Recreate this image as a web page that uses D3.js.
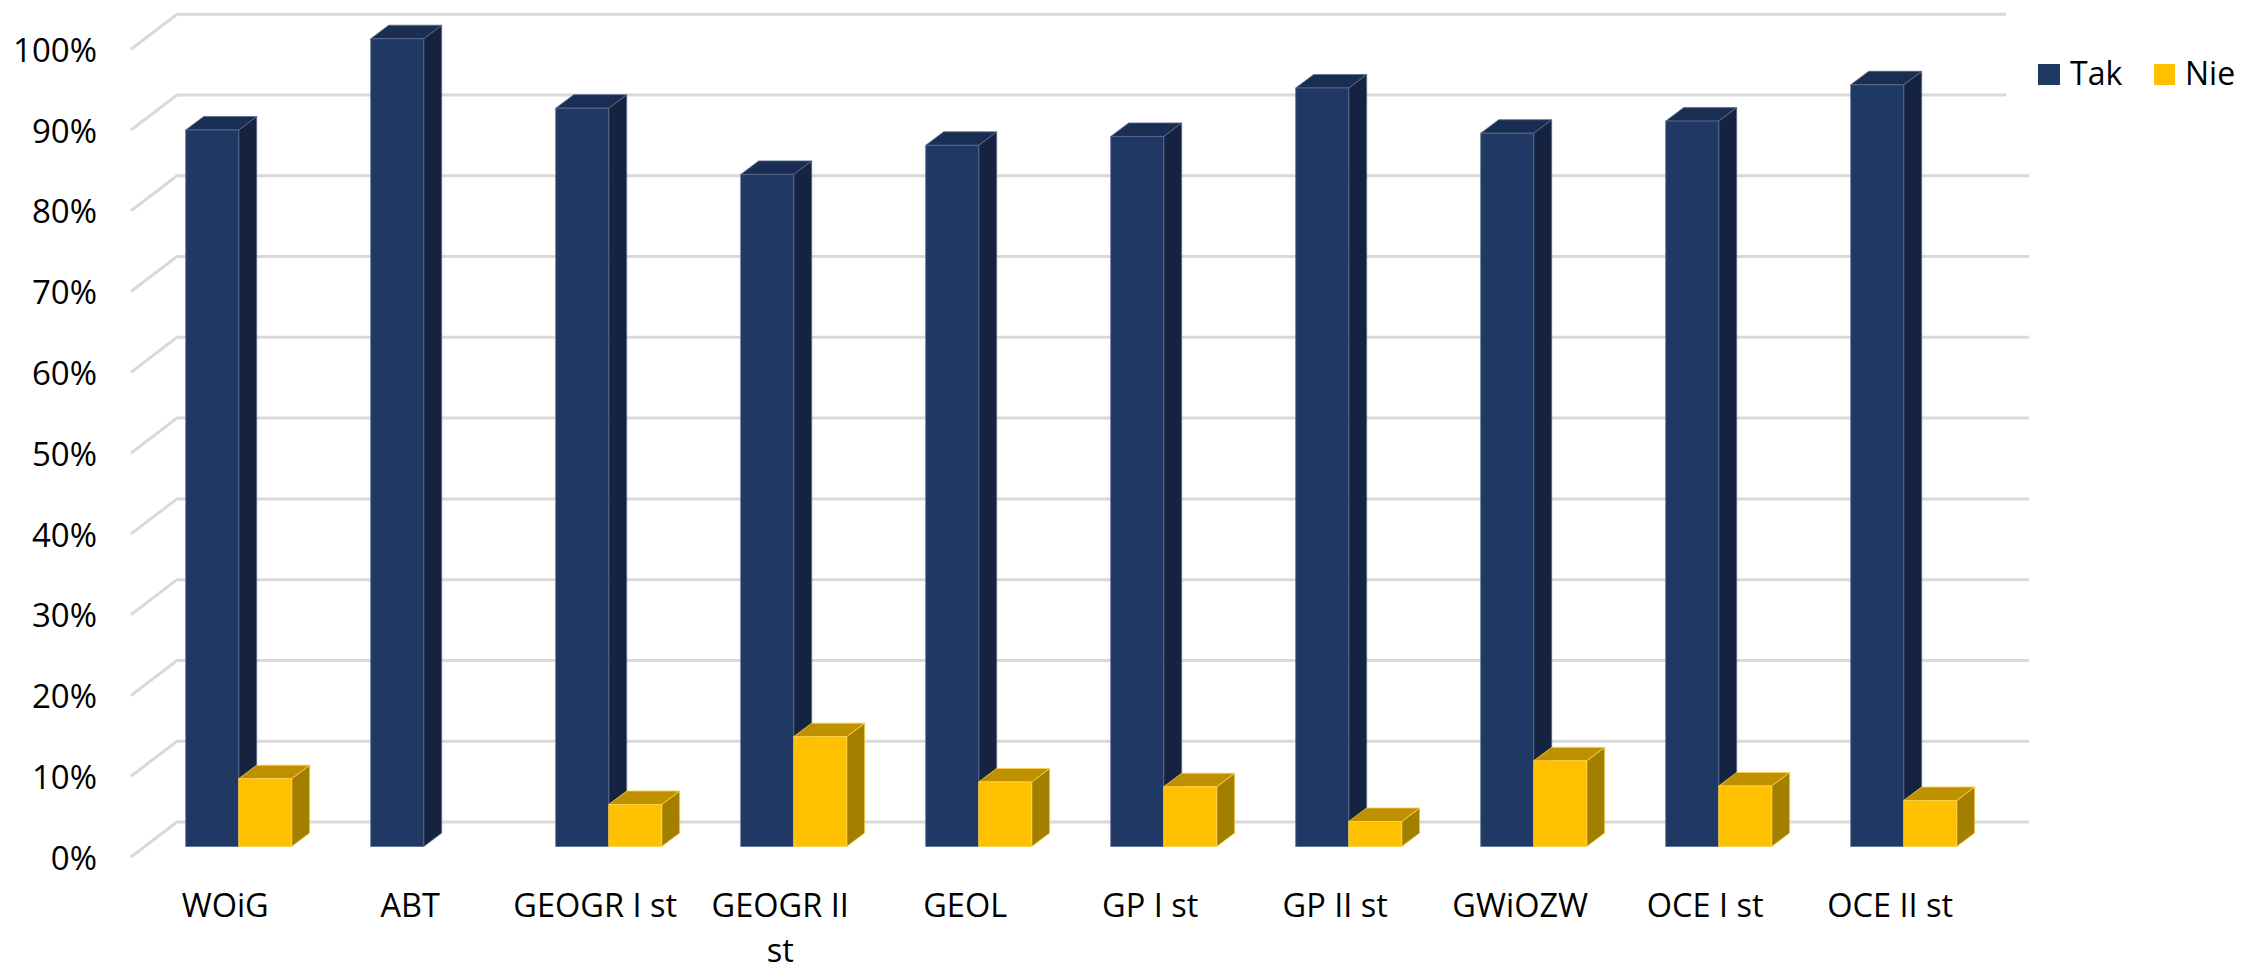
<!DOCTYPE html>
<html><head><meta charset="utf-8">
<script src="https://cdnjs.cloudflare.com/ajax/libs/d3/7.8.5/d3.min.js"></script>
<style>html,body{margin:0;padding:0;background:#fff}svg{display:block}text{font-family:"Open Sans";fill:#000}</style>
</head><body>
<div id="chart"></div>
<script>
const categories = ["WOiG","ABT","GEOGR I st","GEOGR II st","GEOL","GP I st","GP II st","GWiOZW","OCE I st","OCE II st"];
const tak = [88.7,100,91.4,83.2,86.8,87.9,93.9,88.3,89.8,94.3];
const nie = [8.4,0,5.2,13.6,8.0,7.4,3.1,10.6,7.5,5.7];
const ticks = [0,10,20,30,40,50,60,70,80,90,100];
const seriesNames = ["Tak","Nie"];

const W=2244,H=966;
const svg=d3.select("#chart").append("svg").attr("width",W).attr("height",H);
const y=d3.scaleLinear().domain([0,100]).range([846.5,38.7]);
const x=d3.scaleBand().domain(categories).range([185.7,2035.7]).paddingInner(0).paddingOuter(0);
const barW=53,dx=18,dy=13.5;
const wallDx=46,wallDy=35;
const wallY=v=>y(v)+10.5; // front edge of the floor/wall

// gridlines
const grid=svg.append("g").attr("fill","none").attr("stroke","#D9D9D9").attr("stroke-width",3);
ticks.forEach(t=>{
  grid.append("path").attr("d",d3.line()([[131,wallY(t)],[131+wallDx,wallY(t)-wallDy],[2029,wallY(t)-wallDy]]));
});
// legend backdrop trims the two top gridlines
svg.append("rect").attr("x",2006).attr("y",0).attr("width",238).attr("height",150).attr("fill","#fff");

// y labels
svg.append("g").selectAll("text").data(ticks).join("text")
  .attr("x",97).attr("y",t=>wallY(t)+12.7).attr("text-anchor","end")
  .attr("font-size",33).text(t=>t+"%");

function bar3d(g,x0,v,c){
  const t=y(v),b=y(0),r=x0+barW;
  const poly=(pts,f)=>g.append("polygon").attr("points",pts.join(" ")).attr("fill",f).attr("stroke",c.edge).attr("stroke-width",0.8);
  poly([[r,t],[r+dx,t-dy],[r+dx,b-dy],[r,b]],c.side);
  poly([[x0,t],[x0+dx,t-dy],[r+dx,t-dy],[r,t]],c.top);
  poly([[x0,t],[r,t],[r,b],[x0,b]],c.front);
}
const cT={front:"#1F3864",top:"#1A2D52",side:"#152340",edge:"#5A6C8E"};
const cN={front:"#FFC000",top:"#BF9000",side:"#A37F00",edge:"#FFD24D"};
const bars=svg.append("g");
categories.forEach((c,i)=>{
  const x0=x(c);
  bar3d(bars,x0,tak[i],cT);
  if(nie[i]>0) bar3d(bars,x0+barW,nie[i],cN);
});

// category labels
const lab=svg.append("g");
categories.forEach(c=>{
  const cx=x(c)+39.5;
  const parts=c==="GEOGR II st"?["GEOGR II","st"]:[c];
  parts.forEach((p,j)=>lab.append("text").attr("x",cx).attr("y",916.7+j*45).attr("text-anchor","middle").attr("font-size",32.5).text(p));
});

// legend
const lg=svg.append("g");
[[2038,"#1F3864",22,2070],[2154,"#FFC000",21,2185]].forEach(([lx,col,w,tx],i)=>{
  lg.append("rect").attr("x",lx).attr("y",64).attr("width",w).attr("height",21).attr("fill",col);
  lg.append("text").attr("x",tx).attr("y",85).attr("font-size",32).text(seriesNames[i]);
});
</script>
</body></html>
